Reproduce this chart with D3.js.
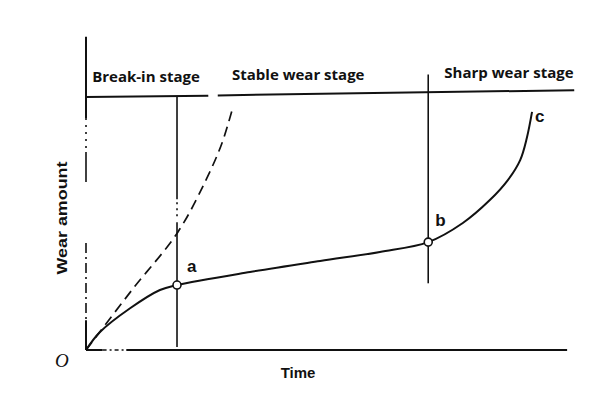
<!DOCTYPE html>
<html>
<head>
<meta charset="utf-8">
<script src="https://cdn.jsdelivr.net/npm/d3@7"></script>
<style>
  body { margin: 0; background: #fff; }
  svg { display: block; }
</style>
</head>
<body>
<div id="chart"></div>
<script>
// wear curve (solid)
var wearTime = [0, 2.95, 9.3, 15.6, 19.2, 34.6, 49.4, 62.0, 72.2, 79.5, 85.2, 89.0, 91.6, 93.0, 94.1];
var wearAmount = [0, 6.2, 14.4, 20.7, 22.4, 26.9, 30.7, 33.8, 37.2, 43.8, 51.7, 58.6, 65.5, 73.1, 82.1];

// dashed curve (no break-in)
var dashTime = [0, 9.7, 19.4, 25.3, 28.7, 31.0];
var dashAmount = [0, 20.7, 40.7, 58.6, 71.4, 83.8];

// stage boundaries and labels
var stageNames = ['Break-in stage', 'Stable wear stage', 'Sharp wear stage'];
var stageLabelTime = [1.3, 30.8, 75.6];
var boundTime = [19.2, 72.2];
var boundTop = [87.2, 95];
var boundBottom = [1, 23];

// marked points
var pointNames = ['a', 'b', 'c'];
var pointIndex = [4, 8, 14];

var width = 600, height = 394;

var x = d3.scaleLinear().domain([0, 100]).range([86, 560]);
var y = d3.scaleLinear().domain([0, 100]).range([350, 60]);

var svg = d3.select('#chart')
    .append('svg')
    .attr('width', width)
    .attr('height', height);

svg.append('rect')
    .attr('width', width)
    .attr('height', height)
    .style('fill', '#fff');

var ink = '#111';

function seg(x1, w1, x2, w2, sw, dash){
    var l = svg.append('line')
        .attr('x1', x(x1)).attr('y1', y(w1))
        .attr('x2', x(x2)).attr('y2', y(w2))
        .style('stroke', ink).style('stroke-width', sw);
    if (dash) l.style('stroke-dasharray', dash);
    return l;
}

//y axis, drawn in pieces like the scanned original
seg(0, 108, 0, 80, 2);
seg(0, 80, 0, 69, 1.6, '2,5');
seg(0, 68.3, 0, 57.9, 1.6);
seg(0, 36.9, 0, 10.3, 1.6, '10,4,2,4');
seg(0, 10.3, 0, 0, 2);

//x axis
seg(0, 0, 3.5, 0, 2);
seg(3.5, 0, 8.5, 0, 1.6, '4,3,2,3');
seg(8.5, 0, 101.5, 0, 2);

//stage line across the top
seg(0, 87.2, 25.8, 87.7, 2);
seg(27.8, 87.8, 103, 89.6, 2);

//stage boundaries
svg.selectAll('.bound')
    .data(boundTime)
    .enter().append('line')
    .attr('class', 'bound')
    .attr('x1', function(d){ return x(d); })
    .attr('x2', function(d){ return x(d); })
    .attr('y1', function(d, i){ return y(boundTop[i]); })
    .attr('y2', function(d, i){ return y(boundBottom[i]); })
    .style('stroke', ink).style('stroke-width', 1.6)
    .style('stroke-dasharray', function(d, i){
        // the first boundary is broken where the dashed curve crosses it
        return i === 0 ? (y(52) - y(87.2)) + ',3,2,4,2,4,2,6,' + 400 : null;
    });

var line = d3.line()
    .x(function(d){ return x(d[0]); })
    .y(function(d){ return y(d[1]); })
    .curve(d3.curveCatmullRom.alpha(0.5));

svg.append('path')
    .attr('d', line(dashTime.map(function(t, i){ return [t, dashAmount[i]]; })))
    .style('fill', 'none')
    .style('stroke', ink)
    .style('stroke-width', 1.7)
    .style('stroke-dasharray', '10,6');

svg.append('path')
    .attr('d', line(wearTime.map(function(t, i){ return [t, wearAmount[i]]; })))
    .style('fill', 'none')
    .style('stroke', ink)
    .style('stroke-width', 2);

//open circles at a and b
svg.selectAll('.pt')
    .data(pointIndex.slice(0, 2))
    .enter().append('circle')
    .attr('class', 'pt')
    .attr('cx', function(d){ return x(wearTime[d]); })
    .attr('cy', function(d){ return y(wearAmount[d]); })
    .attr('r', 4)
    .style('fill', '#fff')
    .style('stroke', ink)
    .style('stroke-width', 1.6);

var labelDx = [10, 7, 3];
var labelDy = [-13, -16, 10];
svg.selectAll('.pname')
    .data(pointNames)
    .enter().append('text')
    .attr('class', 'pname')
    .attr('x', function(d, i){ return x(wearTime[pointIndex[i]]) + labelDx[i]; })
    .attr('y', function(d, i){ return y(wearAmount[pointIndex[i]]) + labelDy[i]; })
    .style('font-family', 'Liberation Sans, Arial, sans-serif')
    .style('font-weight', 'bold')
    .style('font-size', '17px')
    .style('fill', ink)
    .text(function(d){ return d; });

svg.append('text')
    .attr('x', 55).attr('y', 367)
    .style('font-family', 'Liberation Serif, serif')
    .style('font-style', 'italic')
    .style('font-size', '19px')
    .style('fill', ink)
    .text('O');

//stage labels
svg.selectAll('.stage')
    .data(stageNames)
    .enter().append('text')
    .attr('class', 'stage')
    .attr('x', function(d, i){ return x(stageLabelTime[i]); })
    .attr('y', function(d, i){ return y(92.5 + i * 0.6); })
    .style('font-family', 'Open Sans, sans-serif')
    .style('font-weight', 'bold')
    .style('font-size', '15px')
    .style('fill', ink)
    .text(function(d){ return d; });

//axis titles
svg.append('text')
    .attr('x', 298).attr('y', 378)
    .attr('text-anchor', 'middle')
    .style('font-family', 'Liberation Sans, Arial, sans-serif')
    .style('font-weight', 'bold')
    .style('font-size', '15px')
    .style('fill', ink)
    .text('Time');

svg.append('text')
    .attr('transform', 'translate(67,218) rotate(-90)')
    .attr('text-anchor', 'middle')
    .style('font-family', 'Liberation Sans, Arial, sans-serif')
    .style('font-weight', 'bold')
    .style('font-size', '15px')
    .attr('textLength', 113)
    .attr('lengthAdjust', 'spacingAndGlyphs')
    .style('fill', ink)
    .text('Wear amount');
</script>
</body>
</html>
